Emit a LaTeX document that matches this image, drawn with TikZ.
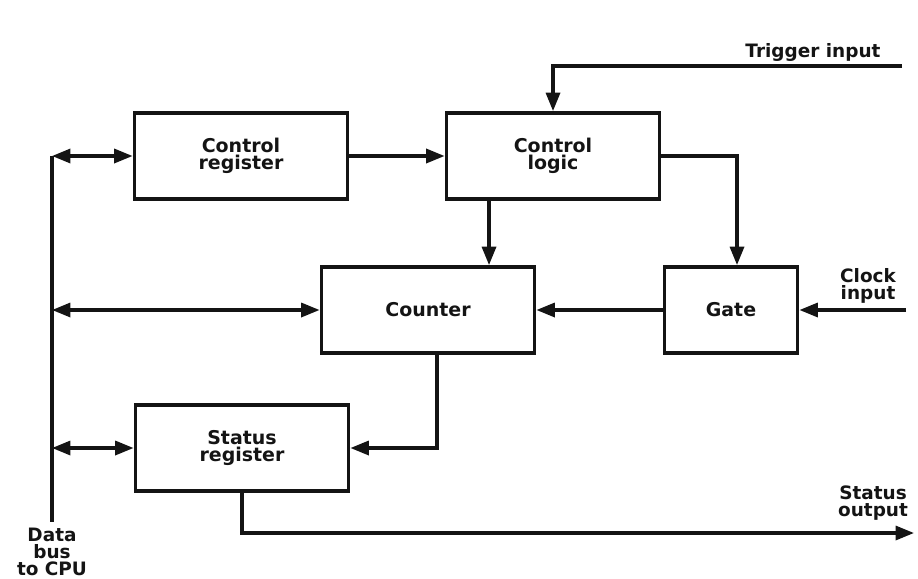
\documentclass[tikz,border=0pt]{standalone}
\usepackage{fontspec}
\setsansfont{DejaVu Sans}
\usetikzlibrary{arrows.meta,calc,positioning}
\definecolor{BlockInk}{HTML}{141414}

\begin{document}
\begin{tikzpicture}[x=0.02cm,y=-0.02cm,
    blockbox/.style={draw=BlockInk,line width=2.2pt,minimum width=4.26cm,
      minimum height=1.72cm,inner sep=0pt,align=center,text=BlockInk,
      font=\sffamily\bfseries\fontsize{10.8}{9.8}\selectfont},
    tag/.style={text=BlockInk,align=center,inner sep=0pt,
      font=\sffamily\bfseries\fontsize{10.5}{9.5}\selectfont},
    wire/.style={draw=BlockInk,line width=1.8pt},
    feed/.style={wire,-{Triangle[length=10.5pt,width=8pt]}},
    both/.style={wire,{Triangle[length=10.5pt,width=8pt]}-{Triangle[length=10.5pt,width=8pt]}}]

        \useasboundingbox (0,0) rectangle (918,578);

        \node[blockbox] (ctrlreg) at (241,156) {Control\\register};
        \node[blockbox] (ctrllogic) at (553,156) {Control\\logic};
        \node[blockbox] (counter) at (428,310) {Counter};
        \node[blockbox,minimum width=2.66cm] (gate) at (731,310) {Gate};
        \node[blockbox] (statreg) at (242,448) {Status\\register};

        \coordinate (bustop) at (52,156);
        \coordinate (busfoot) at (52,522);
        \coordinate (trigin) at (902,66);
        \coordinate (clockin) at (906,310);
        \coordinate (statout) at (914,533);

        \draw[wire,line width=2.4pt] (bustop) -- (busfoot);
        \draw[both] (ctrlreg.west -| bustop) -- (ctrlreg.west);
        \draw[both] (counter.west -| bustop) -- (counter.west);
        \draw[both] (statreg.west -| bustop) -- (statreg.west);

        \draw[feed] (ctrlreg.east) -- (ctrllogic.west);
        \draw[feed] (trigin) -| (ctrllogic.north);
        \draw[feed] ([xshift=-1.28cm]ctrllogic.south)
          -- ([xshift=-1.28cm]ctrllogic.south |- counter.north);
        \draw[feed] (ctrllogic.east) -| ([xshift=0.12cm]gate.north);
        \draw[feed] (gate.west) -- (counter.east);
        \draw[feed] (clockin) -- (gate.east);
        \draw[feed] ([xshift=0.18cm]counter.south) |- (statreg.east);
        \draw[feed] (statreg.south) |- (statout);

        \node[tag,anchor=base] (trigtag) at (813,57) {Trigger input};
        \node[tag] (clocktag) at (868,286) {Clock\\input};
        \node[tag] (stattag) at (873,503) {Status\\output};
        \node[tag] (bustag) at (52,552) {Data\\bus\\to CPU};

      \end{tikzpicture}
\end{document}
